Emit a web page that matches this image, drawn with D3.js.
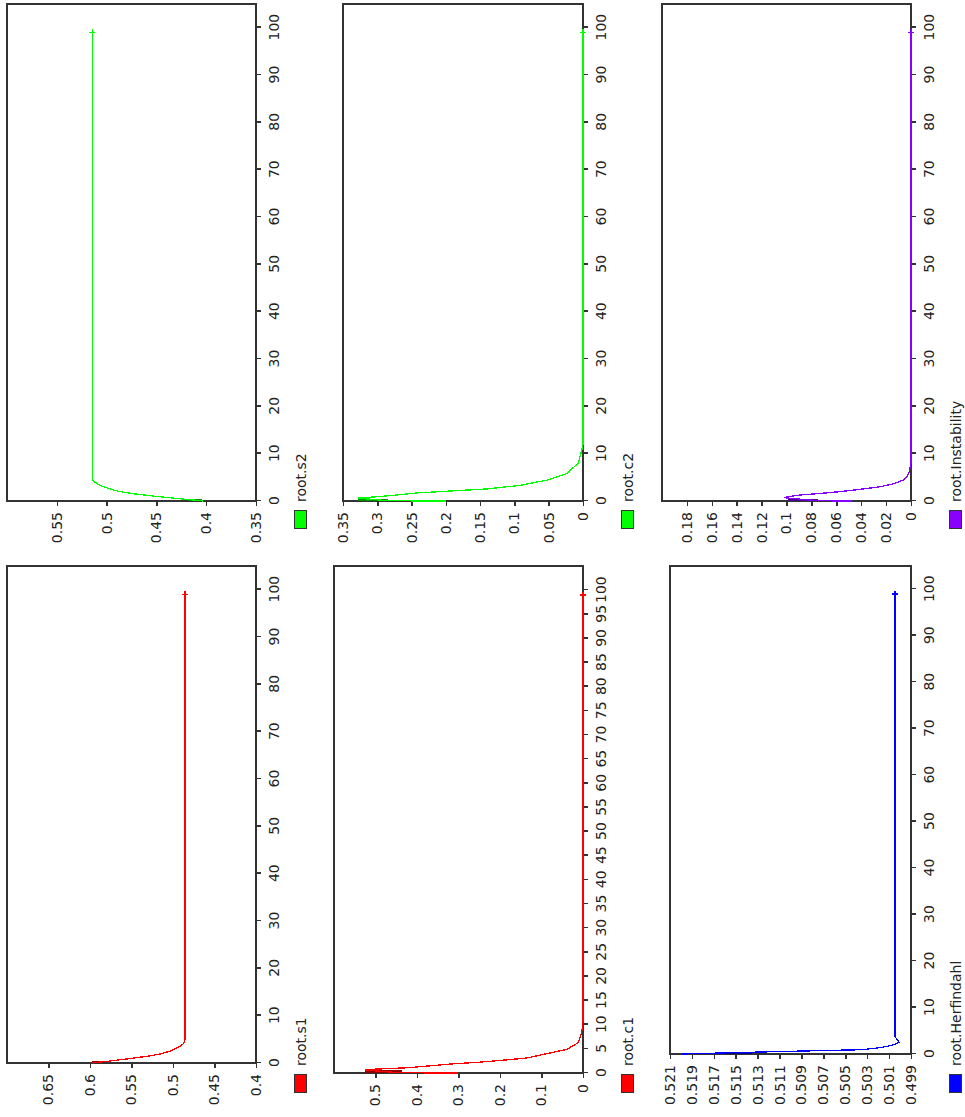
<!DOCTYPE html>
<html>
<head>
<meta charset="utf-8">
<script src="https://cdn.jsdelivr.net/npm/d3@7"></script>
<style>
  html, body { margin: 0; padding: 0; background: #fff; }
  svg { display: block; }
  text { font-family: "DejaVu Sans", Verdana, sans-serif; font-size: 14px; fill: #222; }
</style>
</head>
<body>
<svg id="chart" width="965" height="1117"></svg>
<script>
// ---- simulation output: time axis and the six recorded variables ----

// root.s1
const s1Time   = [0, 0.15, 0.5, 1, 1.5, 2, 2.5, 3, 3.5, 4, 4.5, 5, 6, 99];
const s1Values = [0.597, 0.590, 0.572, 0.549, 0.528, 0.513, 0.504, 0.497, 0.492, 0.488, 0.486, 0.4857, 0.4855, 0.4855];
const s1Start  = [0.583, 0.597, 0.4];   // low, high, end time of the first solver steps

// root.s2
const s2Time   = [0, 0.15, 0.5, 1, 1.5, 2, 2.5, 3, 3.5, 4, 4.5, 5, 6, 99];
const s2Values = [0.403, 0.410, 0.428, 0.451, 0.472, 0.487, 0.496, 0.503, 0.508, 0.512, 0.514, 0.5143, 0.5145, 0.5145];
const s2Start  = [0.404, 0.418, 0.4];

// root.c1
const c1Time   = [0, 0.05, 0.6, 0.8, 1.1, 1.9, 2.25, 2.6, 3.1, 4, 4.9, 6.3, 8.5, 10.6, 99];
const c1Values = [0.30, 0.44, 0.525, 0.50, 0.42, 0.313, 0.248, 0.20, 0.136, 0.0875, 0.039, 0.011, 0.003, 0, 0];
const c1Start  = [0.437, 0.525, 0.6];

// root.c2
const c2Time   = [0, 0.05, 0.6, 1.1, 1.7, 2.55, 3.3, 4.4, 5.8, 8, 10.6, 12, 99];
const c2Values = [0.20, 0.284, 0.328, 0.284, 0.2425, 0.14, 0.092, 0.053, 0.024, 0.0068, 0.002, 0, 0];
const c2Start  = [0.284, 0.328, 0.45];

// root.Herfindahl
const herfTime   = [0, 0.3, 0.77, 0.92, 1.4, 1.9, 2.5, 3.0, 3.7, 99];
const herfValues = [0.5199, 0.5150, 0.5065, 0.5035, 0.5017, 0.5007, 0.50007, 0.5002, 0.50046, 0.50046];
const herfStart  = [0.5135, 0.5181, 0.2];

// root.Instability
const instTime   = [0, 0.05, 0.7, 0.9, 1.27, 1.6, 1.97, 2.46, 3.0, 3.6, 4.4, 5.1, 6.2, 8, 99];
const instValues = [0.0476, 0.0745, 0.102, 0.099, 0.089, 0.073, 0.057, 0.041, 0.025, 0.0145, 0.0064, 0.0035, 0.0013, 0, 0];
const instStart  = [0.0745, 0.0985, 0.45];

// axis ticks
const timeTicks10 = [0, 10, 20, 30, 40, 50, 60, 70, 80, 90, 100];
const timeTicks5  = [0, 5, 10, 15, 20, 25, 30, 35, 40, 45, 50, 55, 60, 65, 70, 75, 80, 85, 90, 95, 100];
const s1Ticks   = [0.4, 0.45, 0.5, 0.55, 0.6, 0.65];
const s2Ticks   = [0.35, 0.4, 0.45, 0.5, 0.55];
const c1Ticks   = [0, 0.1, 0.2, 0.3, 0.4, 0.5];
const c2Ticks   = [0, 0.05, 0.1, 0.15, 0.2, 0.25, 0.3, 0.35];
const herfTicks = [0.499, 0.501, 0.503, 0.505, 0.507, 0.509, 0.511, 0.513, 0.515, 0.517, 0.519, 0.521];
const instTicks = [0, 0.02, 0.04, 0.06, 0.08, 0.1, 0.12, 0.14, 0.16, 0.18];

// ---- panel layout (landscape sheet, turned a quarter turn to fit the page) ----
const SHEET_W = 1117;
const panels = [
  { name: "root.s1", time: s1Time, values: s1Values, start: s1Start, color: "#ff0000",
    yDomain: [0.4, 0.7], yTicks: s1Ticks, xTicks: timeTicks10,
    box: { x0: 54, x1: 551, y0: 7, y1: 256 }, legendX: 25 },
  { name: "root.c1", time: c1Time, values: c1Values, start: c1Start, color: "#ff0000",
    yDomain: [0, 0.6], yTicks: c1Ticks, xTicks: timeTicks5,
    box: { x0: 44, x1: 551, y0: 334, y1: 583 }, legendX: 25 },
  { name: "root.Herfindahl", time: herfTime, values: herfValues, start: herfStart, color: "#0000ff",
    yDomain: [0.499, 0.521], yTicks: herfTicks, xTicks: timeTicks10,
    box: { x0: 63, x1: 551, y0: 670, y1: 911 }, legendX: 25 },
  { name: "root.s2", time: s2Time, values: s2Values, start: s2Start, color: "#00ff00",
    yDomain: [0.35, 0.6], yTicks: s2Ticks, xTicks: timeTicks10,
    box: { x0: 616, x1: 1113, y0: 7, y1: 256 }, legendX: 589 },
  { name: "root.c2", time: c2Time, values: c2Values, start: c2Start, color: "#00ff00",
    yDomain: [0, 0.35], yTicks: c2Ticks, xTicks: timeTicks10,
    box: { x0: 616, x1: 1113, y0: 343, y1: 583 }, legendX: 589 },
  { name: "root.Instability", time: instTime, values: instValues, start: instStart, color: "#8800ff",
    yDomain: [0, 0.2], yTicks: instTicks, xTicks: timeTicks10,
    box: { x0: 616, x1: 1113, y0: 662, y1: 911 }, legendX: 589 }
];

const svg = d3.select("#chart");
const sheet = svg.append("g")
  .attr("transform", `translate(0,${SHEET_W}) rotate(-90)`);

const fmt = d3.format("~g");

panels.forEach(p => {
  const b = p.box;
  const x = d3.scaleLinear().domain([0, 105]).range([b.x0, b.x1]);
  const y = d3.scaleLinear().domain(p.yDomain).range([b.y1, b.y0]);
  const g = sheet.append("g");

  // plot frame
  g.append("rect")
    .attr("x", b.x0).attr("y", b.y0)
    .attr("width", b.x1 - b.x0).attr("height", b.y1 - b.y0)
    .attr("fill", "#fff").attr("stroke", "#333").attr("stroke-width", 2)
    .attr("shape-rendering", "crispEdges");

  // value axis
  const yAxis = g.append("g")
    .attr("transform", `translate(${b.x0},0)`)
    .call(d3.axisLeft(y).tickValues(p.yTicks).tickFormat(fmt)
      .tickSize(5).tickSizeOuter(0).tickPadding(6));
  // time axis
  const xAxis = g.append("g")
    .attr("transform", `translate(0,${b.y1})`)
    .call(d3.axisBottom(x).tickValues(p.xTicks).tickFormat(fmt)
      .tickSize(5).tickSizeOuter(0).tickPadding(8));

  [yAxis, xAxis].forEach(ax => {
    ax.select(".domain").remove();
    ax.attr("font-family", null).attr("font-size", null);
    ax.selectAll("line").attr("stroke", "#333").attr("stroke-width", 1.5)
      .attr("shape-rendering", "crispEdges");
    ax.selectAll("text").attr("fill", "#222");
  });

  // early transient band swept during the first solver steps
  const [lo, hi, tEnd] = p.start;
  g.append("rect")
    .attr("x", x(0)).attr("width", x(tEnd) - x(0))
    .attr("y", y(hi)).attr("height", y(lo) - y(hi))
    .attr("fill", d3.color(p.color).darker(1.6))
    .attr("shape-rendering", "crispEdges");

  // series line
  const pts = p.time.map((t, i) => [t, p.values[i]]);
  const line = d3.line().x(d => x(d[0])).y(d => y(d[1]));
  g.append("path")
    .datum(pts)
    .attr("d", line)
    .attr("fill", "none")
    .attr("stroke", p.color)
    .attr("stroke-width", 1.3)
    .attr("shape-rendering", "crispEdges");

  // end-of-run marker
  const last = pts[pts.length - 1];
  g.append("path")
    .attr("transform", `translate(${x(last[0])},${y(last[1])})`)
    .attr("d", "M-3,0H3M0,-3V3")
    .attr("stroke", p.color).attr("stroke-width", 1.3)
    .attr("shape-rendering", "crispEdges");

  // legend
  const ly = b.y1 + 38;
  g.append("rect")
    .attr("x", p.legendX).attr("y", ly)
    .attr("width", 18).attr("height", 12)
    .attr("fill", p.color).attr("stroke", "#333").attr("stroke-width", 1)
    .attr("shape-rendering", "crispEdges");
  g.append("text")
    .attr("x", p.legendX + 26).attr("y", ly + 12)
    .text(p.name);
});
</script>
</body>
</html>
